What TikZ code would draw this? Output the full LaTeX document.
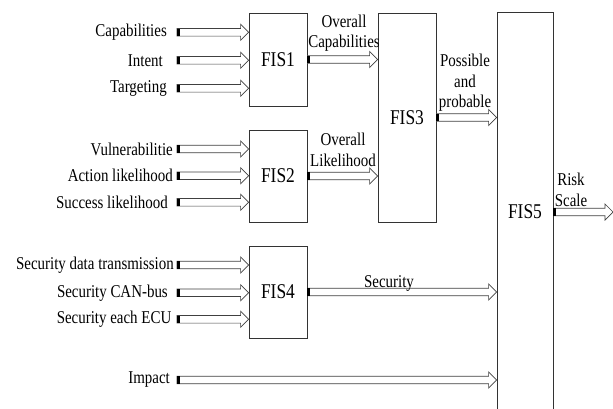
\documentclass[tikz,border=0pt]{standalone}
\usepackage{fontspec}
\setmainfont{Liberation Serif}[FakeStretch=0.83]
\usetikzlibrary{positioning,calc}

\begin{document}
\begin{tikzpicture}[x=1pt,y=-1pt,
	fis/.style={draw=black!80,line width=0.8pt,inner sep=0,font=\fontsize{21}{24}\selectfont},
	lbl/.style={inner sep=0,font=\fontsize{18}{20.5}\selectfont,align=center},
	blkline/.style={draw=black!75,line width=0.7pt,fill=white}]

\newcommand{\flowarrow}[2]{
	\draw[blkline] let \p1=(#1), \p2=(#2) in
		(\x1,\y1+3.8pt) -- (\x2-8pt,\y1+3.8pt) -- (\x2-8pt,\y1+8pt) -- (\x2,\y1)
		-- (\x2-8pt,\y1-8pt) -- (\x2-8pt,\y1-3.8pt) -- (\x1,\y1-3.8pt) -- cycle;
	\fill[black] let \p1=(#1) in (\x1,\y1-3.8pt) rectangle (\x1+2.5pt,\y1+3.8pt);
}

\useasboundingbox (0,0) rectangle (613,408);

% fuzzy inference systems
\node[fis,minimum width=58,minimum height=93] (fis1) at (278,59.5) {FIS1};
\node[fis,minimum width=58,minimum height=92] (fis2) at (278,176) {FIS2};
\node[fis,minimum width=58,minimum height=92] (fis4) at (278,292) {FIS4};
\node[fis,minimum width=58,minimum height=209] (fis3) at (407,117.5) {FIS3};
\node[fis,minimum width=56,minimum height=400] (fis5) at (525,212) {FIS5};

\coordinate (in0) at (177,0);

% inputs
\foreach \n/\t/\x/\y/\f in {cap/Capabilities/167/32.3/fis1, int/Intent/163/60.3/fis1,
	tgt/Targeting/167/88.3/fis1, vul/Vulnerabilitie/173/149/fis2,
	act/Action likelihood/173/175.7/fis2, suc/Success likelihood/168/202.3/fis2,
	sdt/Security data transmission/174/265/fis4, can/Security CAN-bus/168/292.7/fis4,
	ecu/Security each ECU/171.5/319.3/fis4, imp/Impact/170/380/fis5}{
	\node[lbl,anchor=east] (\n) at (\x,\y) {\t};
	\path (\n.east -| in0) coordinate (s) (\n.east -| \f.west) coordinate (e);
	\flowarrow{s}{e}
}

% outputs
\flowarrow{fis1.east}{fis1.east -| fis3.west}
\flowarrow{fis2.east}{fis2.east -| fis3.west}
\flowarrow{fis3.east}{fis3.east -| fis5.west}
\flowarrow{fis4.east}{fis4.east -| fis5.west}
\coordinate (out) at (613,212);
\flowarrow{fis5.east}{out}

\node[lbl] (ocap) at (344,33) {Overall\\Capabilities};
\node[lbl] (olik) at (343,150) {Overall\\Likelihood};
\node[lbl] (pp) at (465,83) {Possible\\and\\probable};
\node[lbl] (sec) at (389,283) {Security};
\node[lbl] (risk) at (571,190) {Risk\\Scale};

\end{tikzpicture}
\end{document}
